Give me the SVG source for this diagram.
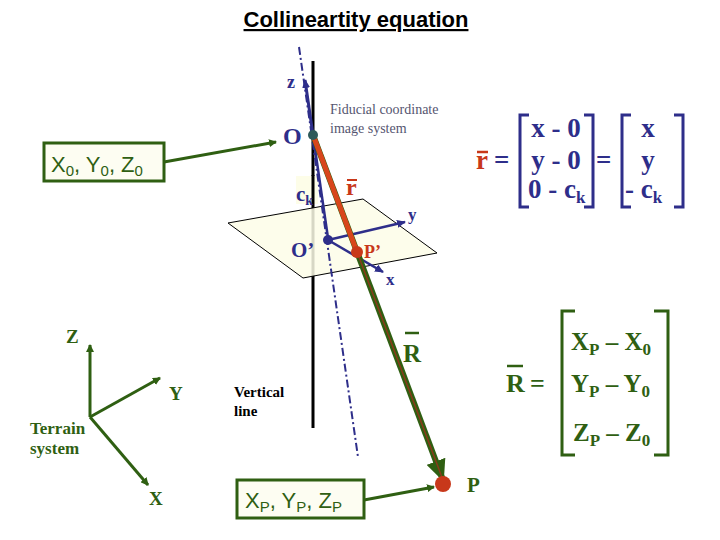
<svg xmlns="http://www.w3.org/2000/svg" width="720" height="540" viewBox="0 0 720 540">
<defs>
<marker id="ag" markerWidth="8" markerHeight="8" refX="7" refY="4" orient="auto" markerUnits="userSpaceOnUse"><path d="M0,0 L8,4 L0,8 Z" fill="#2f5f12"/></marker>
<marker id="an" markerWidth="9" markerHeight="8" refX="8" refY="4" orient="auto" markerUnits="userSpaceOnUse"><path d="M0,0 L9,4 L0,8 Z" fill="#2e2e8a"/></marker>
<marker id="abig" markerWidth="22" markerHeight="20" refX="20" refY="10" orient="auto" markerUnits="userSpaceOnUse"><path d="M0,0 L22,10 L0,20 Z" fill="#2f5f12"/></marker>
<style>
.serif{font-family:"Liberation Serif",serif;font-weight:bold}
.navy{fill:#2e2e8a}.grn{fill:#2f5f12}.red{fill:#c8381a}
.sans{font-family:"Liberation Sans",Arial,sans-serif}
.box{fill:#fdfdf2;stroke:#2f5f12;stroke-width:3}
.brk{fill:none;stroke-width:3}
</style>
</defs>
<text x="356" y="27" text-anchor="middle" class="sans" font-size="22" font-weight="bold" text-decoration="underline">Collineartity equation</text>

<g id="connectors">
<line x1="313" y1="61" x2="313" y2="428" stroke="#000" stroke-width="3"/>
<polygon points="228,223 363,199 437,253 303,278" fill="#fdfde8" fill-opacity="0.85" stroke="#000" stroke-width="1"/>
<rect x="296" y="176" width="22" height="28" fill="#fdfde8"/>
<line x1="313" y1="175" x2="313" y2="204" stroke="#000" stroke-width="3"/>
<line x1="299" y1="47" x2="358" y2="457" stroke="#2e2e8a" stroke-width="2" stroke-dasharray="8,3,2,3"/>
<line x1="313" y1="135" x2="305" y2="80" stroke="#2e2e8a" stroke-width="3" marker-end="url(#an)"/>
<line x1="313" y1="135" x2="328" y2="238" stroke="#2e2e8a" stroke-width="2.5"/>
<line x1="328" y1="240" x2="405" y2="222" stroke="#2e2e8a" stroke-width="2.5" marker-end="url(#an)"/>
<line x1="328" y1="240" x2="383" y2="272" stroke="#2e2e8a" stroke-width="2.5" marker-end="url(#an)"/>
<line x1="313" y1="135" x2="443" y2="480" stroke="#2f5f12" stroke-width="6" marker-end="url(#abig)"/>
<line x1="313" y1="135" x2="443" y2="480" stroke="#8a3a1a" stroke-width="1.5"/>
<line x1="313" y1="135" x2="357" y2="252" stroke="#d8461c" stroke-width="5"/>
<line x1="164" y1="162" x2="276" y2="142" stroke="#2f5f12" stroke-width="3" marker-end="url(#ag)"/>
<line x1="364" y1="500" x2="434" y2="487" stroke="#2f5f12" stroke-width="3" marker-end="url(#ag)"/>
<line x1="90" y1="417" x2="90" y2="345" stroke="#2f5f12" stroke-width="3" marker-end="url(#ag)"/>
<line x1="90" y1="417" x2="160" y2="378" stroke="#2f5f12" stroke-width="3" marker-end="url(#ag)"/>
<line x1="90" y1="417" x2="148" y2="485" stroke="#2f5f12" stroke-width="3" marker-end="url(#ag)"/>
</g>

<g id="O"><circle cx="313" cy="135" r="5" fill="#2e5a5a"/><text x="283" y="144" class="serif navy" font-size="24">O</text></g>
<g id="Oprime"><circle cx="328" cy="240" r="5" fill="#2e2e8a"/><text x="291" y="257" class="serif navy" font-size="21">O’</text></g>
<g id="Pprime"><circle cx="357" cy="252" r="6" fill="#c8381a"/><text x="364" y="258" class="serif red" font-size="18">P’</text></g>
<g id="P"><circle cx="443" cy="484" r="8" fill="#c8381a"/><text x="467" y="492" class="serif grn" font-size="21">P</text></g>
<g id="labels">
<text x="287" y="88" class="serif navy" font-size="18">z</text>
<text x="408" y="220" class="serif navy" font-size="17">y</text>
<text x="386" y="285" class="serif navy" font-size="17">x</text>
<text x="296" y="201" class="serif navy" font-size="21">c<tspan font-size="14" dy="4">k</tspan></text>
<text x="330" y="114" font-family="Liberation Serif,serif" font-size="14" fill="#555570">Fiducial coordinate</text>
<text x="330" y="133" font-family="Liberation Serif,serif" font-size="14" fill="#555570">image system</text>
<text x="346" y="195" class="serif red" font-size="24">r</text><line x1="347" y1="180" x2="357" y2="180" stroke="#c8381a" stroke-width="2"/>
<text x="403" y="362" class="serif grn" font-size="25">R</text><line x1="405" y1="333" x2="419" y2="333" stroke="#2f5f12" stroke-width="2.5"/>
<text x="234" y="397" font-family="Liberation Serif,serif" font-weight="bold" font-size="15">Vertical</text>
<text x="234" y="416" font-family="Liberation Serif,serif" font-weight="bold" font-size="15">line</text>
</g>
<g id="box0"><rect x="44" y="143" width="120" height="38" class="box"/><text x="51" y="172" class="sans grn" font-size="22">X<tspan font-size="15" dy="4">0</tspan><tspan dy="-4">, Y</tspan><tspan font-size="15" dy="4">0</tspan><tspan dy="-4">, Z</tspan><tspan font-size="15" dy="4">0</tspan></text></g>
<g id="boxP"><rect x="237" y="480" width="127" height="38" class="box"/><text x="245" y="508" class="sans grn" font-size="22">X<tspan font-size="15" dy="4">P</tspan><tspan dy="-4">, Y</tspan><tspan font-size="15" dy="4">P</tspan><tspan dy="-4">, Z</tspan><tspan font-size="15" dy="4">P</tspan></text></g>
<g id="terrain">
<text x="66" y="343" class="serif grn" font-size="19">Z</text>
<text x="169" y="400" class="serif grn" font-size="19">Y</text>
<text x="149" y="505" class="serif grn" font-size="19">X</text>
<text x="30" y="434" class="serif grn" font-size="17">Terrain</text>
<text x="30" y="454" class="serif grn" font-size="17">system</text>
</g>
<g id="rmatrix">
<text x="476" y="169" class="serif red" font-size="27">r</text><line x1="477" y1="152" x2="488" y2="152" stroke="#c8381a" stroke-width="2.5"/>
<text x="494" y="169" class="serif navy" font-size="27">=</text>
<path d="M529,115 H520 V207 H529" class="brk" stroke="#2e2e8a"/>
<path d="M584,115 H593 V207 H584" class="brk" stroke="#2e2e8a"/>
<path d="M631,115 H622 V207 H631" class="brk" stroke="#2e2e8a"/>
<path d="M674,115 H683 V207 H674" class="brk" stroke="#2e2e8a"/>
<text x="596" y="169" class="serif navy" font-size="27">=</text>
<text x="556" y="137" text-anchor="middle" class="serif navy" font-size="27">x - 0</text>
<text x="556" y="169" text-anchor="middle" class="serif navy" font-size="27">y - 0</text>
<text x="528" y="198" class="serif navy" font-size="27">0 - c<tspan font-size="17" dy="5">k</tspan></text>
<text x="648" y="137" text-anchor="middle" class="serif navy" font-size="27">x</text>
<text x="648" y="169" text-anchor="middle" class="serif navy" font-size="27">y</text>
<text x="625" y="198" class="serif navy" font-size="27">- c<tspan font-size="17" dy="5">k</tspan></text>
</g>
<g id="Rmatrix">
<text x="506" y="392" class="serif grn" font-size="26">R</text><line x1="507" y1="366" x2="523" y2="366" stroke="#2f5f12" stroke-width="2.5"/>
<text x="530" y="392" class="serif grn" font-size="26">=</text>
<path d="M575,311 H562 V455 H575" class="brk" stroke="#2f5f12"/>
<path d="M654,311 H668 V455 H654" class="brk" stroke="#2f5f12"/>
<text x="571" y="350" class="serif grn" font-size="25">X<tspan font-size="17" dy="5">P</tspan><tspan dy="-5"> – X</tspan><tspan font-size="17" dy="5">0</tspan></text>
<text x="571" y="392" class="serif grn" font-size="25">Y<tspan font-size="17" dy="5">P</tspan><tspan dy="-5"> – Y</tspan><tspan font-size="17" dy="5">0</tspan></text>
<text x="573" y="441" class="serif grn" font-size="25">Z<tspan font-size="17" dy="5">P</tspan><tspan dy="-5"> – Z</tspan><tspan font-size="17" dy="5">0</tspan></text>
</g>
</svg>
